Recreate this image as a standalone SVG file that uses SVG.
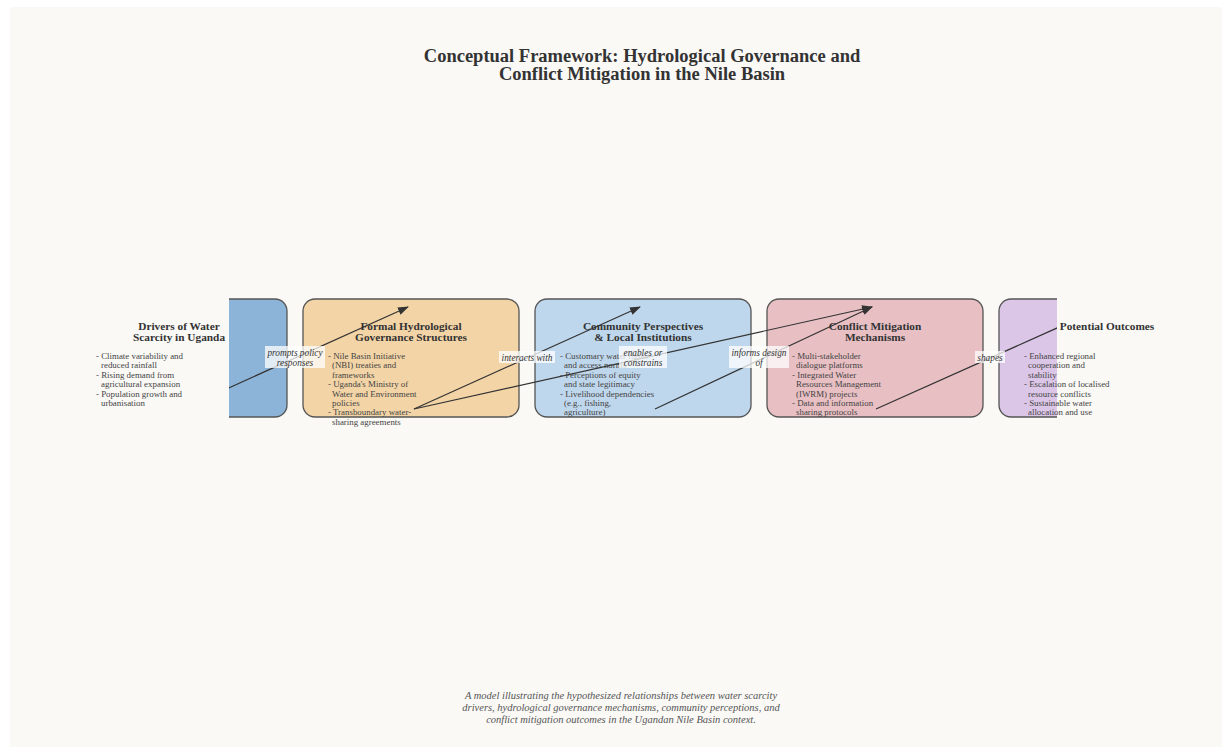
<svg xmlns="http://www.w3.org/2000/svg" width="1232" height="753" viewBox="0 0 1232 753">
<style>
  .ttl{font-family:"Liberation Serif","Times New Roman",serif;font-weight:bold;font-size:18.5px;fill:#333;text-anchor:middle}
  .nt{font-family:"Liberation Serif","Times New Roman",serif;font-weight:bold;font-size:11.3px;fill:#333;text-anchor:middle}
  .bd{font-family:"Liberation Serif","Times New Roman",serif;font-size:8.9px;fill:#444}
  .lb{font-family:"Liberation Serif","Times New Roman",serif;font-style:italic;font-size:9.3px;fill:#333;text-anchor:middle}
  .cap{font-family:"Liberation Serif","Times New Roman",serif;font-style:italic;font-size:10.5px;fill:#555;text-anchor:middle}
  .box{stroke:#555;stroke-width:1.3}
  .edge{stroke:#333;stroke-width:1.2;fill:none;marker-end:url(#arr)}
  .lbg{fill:#ffffff;fill-opacity:0.75}
</style>
<defs>
  <clipPath id="clip"><rect x="229" y="0" width="828" height="753"/></clipPath>
  <marker id="arr" markerUnits="userSpaceOnUse" markerWidth="11" markerHeight="8" refX="10" refY="4" orient="auto">
    <path d="M0,0 L11,4 L0,8 z" fill="#333"/>
  </marker>
</defs>
<rect x="0" y="0" width="1232" height="753" fill="#ffffff"/>
<rect x="10" y="7" width="1212" height="740" fill="#faf9f6"/>

<text class="ttl" x="642" y="62">Conceptual Framework: Hydrological Governance and</text>
<text class="ttl" x="642" y="80">Conflict Mitigation in the Nile Basin</text>

<g clip-path="url(#clip)">
  <g id="node-drivers-box"><rect class="box" x="71" y="299" width="216" height="118" rx="12" fill="#8cb4d8"/></g>
  <g id="node-formal-box"><rect class="box" x="303" y="299" width="216" height="118" rx="12" fill="#f3d4a6"/></g>
  <g id="node-community-box"><rect class="box" x="535" y="299" width="216" height="118" rx="12" fill="#bfd7ec"/></g>
  <g id="node-conflict-box"><rect class="box" x="767" y="299" width="216" height="118" rx="12" fill="#e8bfc3"/></g>
  <g id="node-outcomes-box"><rect class="box" x="999" y="299" width="216" height="118" rx="12" fill="#dcc6e8"/></g>
</g>

<g id="node-drivers">
  <text class="nt" x="179" y="330">Drivers of Water</text>
  <text class="nt" x="179" y="341">Scarcity in Uganda</text>
  <text class="bd" x="96" y="359">- Climate variability and</text>
  <text class="bd" x="101" y="368.4">reduced rainfall</text>
  <text class="bd" x="96" y="377.8">- Rising demand from</text>
  <text class="bd" x="101" y="387.2">agricultural expansion</text>
  <text class="bd" x="96" y="396.6">- Population growth and</text>
  <text class="bd" x="101" y="406">urbanisation</text>
</g>
<g id="node-formal">
  <text class="nt" x="411" y="330">Formal Hydrological</text>
  <text class="nt" x="411" y="341">Governance Structures</text>
  <text class="bd" x="328" y="359">- Nile Basin Initiative</text>
  <text class="bd" x="332" y="368.4">(NBI) treaties and</text>
  <text class="bd" x="332" y="377.8">frameworks</text>
  <text class="bd" x="328" y="387.2">- Uganda's Ministry of</text>
  <text class="bd" x="332" y="396.6">Water and Environment</text>
  <text class="bd" x="332" y="406">policies</text>
  <text class="bd" x="328" y="415.4">- Transboundary water-</text>
  <text class="bd" x="332" y="424.8">sharing agreements</text>
</g>
<g id="node-community">
  <text class="nt" x="643" y="330">Community Perspectives</text>
  <text class="nt" x="643" y="341">&amp; Local Institutions</text>
  <text class="bd" x="560" y="359">- Customary water rights</text>
  <text class="bd" x="564" y="368.4">and access norms</text>
  <text class="bd" x="560" y="377.8">- Perceptions of equity</text>
  <text class="bd" x="564" y="387.2">and state legitimacy</text>
  <text class="bd" x="560" y="396.6">- Livelihood dependencies</text>
  <text class="bd" x="564" y="406">(e.g., fishing,</text>
  <text class="bd" x="564" y="415.4">agriculture)</text>
</g>
<g id="node-conflict">
  <text class="nt" x="875" y="330">Conflict Mitigation</text>
  <text class="nt" x="875" y="341">Mechanisms</text>
  <text class="bd" x="792" y="359">- Multi-stakeholder</text>
  <text class="bd" x="796" y="368.4">dialogue platforms</text>
  <text class="bd" x="792" y="377.8">- Integrated Water</text>
  <text class="bd" x="796" y="387.2">Resources Management</text>
  <text class="bd" x="796" y="396.6">(IWRM) projects</text>
  <text class="bd" x="792" y="406">- Data and information</text>
  <text class="bd" x="796" y="415.4">sharing protocols</text>
</g>
<g id="node-outcomes">
  <text class="nt" x="1107" y="330">Potential Outcomes</text>
  <text class="bd" x="1024" y="359">- Enhanced regional</text>
  <text class="bd" x="1028" y="368.4">cooperation and</text>
  <text class="bd" x="1028" y="377.8">stability</text>
  <text class="bd" x="1024" y="387.2">- Escalation of localised</text>
  <text class="bd" x="1028" y="396.6">resource conflicts</text>
  <text class="bd" x="1024" y="406">- Sustainable water</text>
  <text class="bd" x="1028" y="415.4">allocation and use</text>
</g>

<g id="connectors">
  <g clip-path="url(#clip)">
    <line class="edge" x1="182" y1="409" x2="408" y2="307"/>
    <line class="edge" x1="414" y1="409" x2="640" y2="307"/>
    <line class="edge" x1="414" y1="409" x2="872" y2="307"/>
    <line class="edge" x1="655" y1="409" x2="872" y2="307"/>
    <line class="edge" x1="876" y1="409" x2="1104" y2="307"/>
  </g>
  <rect class="lbg" x="265" y="346" width="60" height="22"/>
  <text class="lb" x="295" y="355.5">prompts policy</text>
  <text class="lb" x="295" y="365.5">responses</text>
  <rect class="lbg" x="499" y="351" width="56" height="12"/>
  <text class="lb" x="527" y="360.5">interacts with</text>
  <rect class="lbg" x="619" y="346" width="48" height="22"/>
  <text class="lb" x="643" y="355.5">enables or</text>
  <text class="lb" x="643" y="365.5">constrains</text>
  <rect class="lbg" x="729" y="346" width="60" height="22"/>
  <text class="lb" x="759" y="355.5">informs design</text>
  <text class="lb" x="759" y="365.5">of</text>
  <rect class="lbg" x="975" y="351" width="30" height="12"/>
  <text class="lb" x="990" y="360.5">shapes</text>
</g>

<text class="cap" x="621" y="699">A model illustrating the hypothesized relationships between water scarcity</text>
<text class="cap" x="621" y="711">drivers, hydrological governance mechanisms, community perceptions, and</text>
<text class="cap" x="621" y="723">conflict mitigation outcomes in the Ugandan Nile Basin context.</text>
</svg>
